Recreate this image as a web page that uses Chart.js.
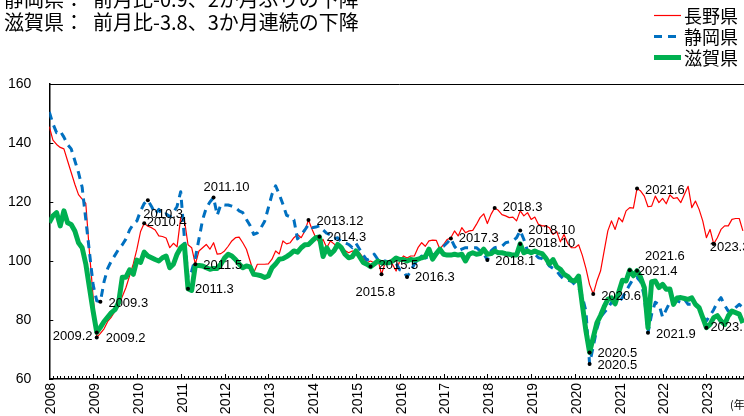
<!DOCTYPE html>
<html>
<head>
<meta charset="utf-8">
<script src="https://cdn.jsdelivr.net/npm/chart.js@4.4.1/dist/chart.umd.min.js"></script>
<style>
html,body{margin:0;padding:0;background:#fff}
#wrap{position:relative;width:744px;height:416px;overflow:hidden}
#c{position:absolute;left:0;top:0}
.t{position:absolute;left:4px;font-family:"Noto Sans CJK JP";font-size:20px;line-height:20px;white-space:pre;color:#000}
#unit{position:absolute;left:730px;top:399px;font-family:"Noto Sans CJK JP";font-size:11px;line-height:11px;white-space:pre;color:#000}
</style>
</head>
<body>
<div id="wrap">
<canvas id="c" width="771" height="416"></canvas>
<div class="t" style="top:-11px">静岡県：  前月比-0.9、2か月ぶりの下降</div>
<div class="t" style="top:12px">滋賀県：  前月比-3.8、3か月連続の下降</div>
<div id="unit">(年)</div>
</div>
<script>
// monthly index, Jan 2008 = 0
const startYear = 2008

const nagano = [
145.5,141,139.5,138.5,138,134,130,126,122.5,121,119.5,103,
88,74.1,75.5,77,79.5,81,83,84.5,88,91,95,99,
104,110,112.8,111.8,111.3,110.5,108.5,108.3,107.8,104.5,106,104.8,
114.7,114,105.5,104.5,98.9,103.4,104.5,105.6,104,106.2,102.3,102.5,
103.4,105,106.8,107.9,108.1,106.2,104,100,96,98.9,98.9,98.9,
99,100.6,103.4,102.4,106.8,105.8,106.2,107.9,109,107.9,110.2,113.9,
110.7,107.9,106.2,107.3,104.5,106.8,105.8,104.5,105,103.6,102.8,103.4,
103,102.8,101.1,99.4,100,99.4,100.6,95.5,99.4,99.4,98.9,96.6,
100,101.7,101,101.7,101.7,104.5,106.2,105,106.8,107.1,107,104,
105.6,107.3,107.9,110.2,108.5,111.3,109.6,110.2,110.4,112.4,114.7,116,
112.7,115.8,118,117.2,115.7,115.3,114.7,114.9,113.6,117,115.3,116.4,
114.1,114.9,112.4,111.9,111.9,111.3,109,110,106.5,109,106,104.5,
104.5,105.5,102,97.5,92,88.8,93.2,96.6,103.4,110.2,113.6,110.7,
114.7,113.3,117,118.1,117.9,124.6,123.7,122,118.4,118.6,122,119.8,
121.2,119.4,122.4,121.2,121.5,119.8,122.6,125.3,118.1,120.3,117.5,113.6,
107.9,110.7,105.8,107.9,110.7,111.9,111.9,114.1,114.4,114.4,110.2
]

const shizuoka = [
150.5,146.5,143.5,144,142,139.5,138,134,130,125,114,103,
92,86.5,86.2,93,97.5,100,102,104,105.5,107.5,110.5,112.5,
113.6,117,119.5,120.6,118.5,116,117.5,115.5,116,115,116.5,118.5,
123.5,108,94.4,96.6,101,107.5,114,118,120,121.5,115.5,119.2,
119,119,118.6,118.1,117,116.4,114.1,112,109,109.5,111.3,113.5,
118,122.6,125.5,122.6,119.2,115.5,115,114,107.5,109,110.5,112.4,
111.3,111.5,111.9,110.5,109.4,108.8,107.5,107.9,106.5,106.2,105.6,104.5,
106,104,102,100.3,101,102.3,100.5,100,100,99.5,100,99.2,
97,96.6,94.6,96.6,99,100.5,101.7,101,101.5,102,102.5,104.5,
105,106.2,107.6,105,103.4,104,104.5,104.5,104.5,104.5,103.4,102.5,
100.3,103.4,104.5,104.8,105,106.2,106.5,106.8,107.9,110.3,107.3,103.4,
102.8,102.3,101.1,100.8,100,98.3,97.5,96.6,95,93.8,93.5,93.2,
92,91,88,83,65.1,71,77,81,82.5,84,86,85.5,
86,87.6,89.8,92,94,94.4,93,88,75.7,82,86,85.3,
81,83.5,86,86.4,86.5,86,87,85.3,85.3,85,84,81,
79.7,81.5,83.5,86,87.6,85,83,83,84.2,85.3,84.2
]

const shiga = [
113,115.3,116.4,111.9,117,113,112.4,110.2,106.2,104.5,99,91,
83,75.8,77.5,79.5,81,82.5,83.5,86,94.5,94.5,97,95.5,
100.3,99.5,103,101.7,101.1,100.5,100,101.1,101.7,97.7,98.9,102.3,
104.5,105.5,90.6,90,98.5,98.5,98.3,97.7,97.2,97.5,97.5,98.9,
101,102.3,101.7,100.5,99,97.7,98.3,98,95.5,95.3,95,94.4,
94.9,97.7,99,100.6,100.8,101.5,102.3,103.4,103,104.5,105.5,105.6,
106.8,107.9,108.2,101.5,104.5,102.3,103.5,105.6,104.5,102.3,101.1,101.5,
103.4,101.5,99.5,98.9,98.1,99,100,99.4,99.4,99.4,100,101,
100.5,100.5,100,100.5,100.3,100.6,101.1,101.5,104,100.6,102.5,104,
102.3,102,102,102.3,102,102.3,100,102.3,102.8,102.3,102.5,104,
102.3,102.5,103.4,102.8,102.8,102.5,102.3,102,102,105.8,102.8,103.4,
102.8,103.4,102.8,102.5,101,99,100.5,98,97.2,95.5,94.8,93.5,
93.2,94.9,85.3,76.3,69,74,79,81.5,84.5,87,87.5,85.5,
89.5,93.5,93.2,96.9,95,96.7,94.4,91,77.4,93,93.2,91,
92.1,90.4,90.5,85.3,87.5,87.6,87.3,87,87.5,85.3,84.2,80.8,
77.4,78.5,80.8,81.5,79.7,78.5,81.4,83,82.5,82,79
]

const seriesNames = ['長野県','静岡県','滋賀県']

// labelled points: series, month index, label
const markPoints = [
['nagano',13,'2009.2'],['shiga',13,'2009.2'],['shizuoka',14,'2009.3'],
['nagano',26,'2010.3'],['shizuoka',27,'2010.4'],['shiga',38,'2011.3'],
['nagano',40,'2011.5'],['shizuoka',45,'2011.10'],['nagano',71,'2013.12'],
['shiga',74,'2014.3'],['shiga',88,'2015.5'],['nagano',91,'2015.8'],
['shizuoka',98,'2016.3'],['shizuoka',110,'2017.3'],['shizuoka',120,'2018.1'],
['nagano',122,'2018.3'],['shizuoka',129,'2018.10'],['shiga',129,'2018.10'],
['shiga',148,'2020.5'],['shizuoka',148,'2020.5'],['nagano',149,'2020.6'],
['shiga',159,'2021.4'],['shiga',161,'2021.6'],['nagano',161,'2021.6'],
['shizuoka',164,'2021.9'],['shiga',180,'2023.1'],['nagano',182,'2023.3']
]
// label offsets from the dot (px), same order
const markOffsets = [
[9,1],[-44,4],[8,2],
[-1,-9],[-1,22],[7,1],
[8,1],[-10,-10],[8,1],
[7,1],[8,-1],[-26,18],
[8,0],[8,0],[8,1],
[8,0],[8,0],[8,0],
[8,1],[8,1],[8,2],
[8,1],[8,-14],[8,2],
[8,2],[4,0],[-4,4]
]

const seriesByKey = {nagano:nagano, shizuoka:shizuoka, shiga:shiga}

function toPoints(arr){
return arr.map((v,i)=>({x:i,y:v}))
}

const extras = {
id:'extras',
afterDatasetsDraw(chart){
let ctx=chart.ctx
let a=chart.chartArea
let x=chart.scales.x
let y=chart.scales.y
ctx.save()
ctx.strokeStyle='#000'
ctx.lineWidth=1
ctx.beginPath()
ctx.moveTo(a.left,a.top+0.5)
ctx.lineTo(a.right,a.top+0.5)
// inward ticks
for(let m=0;m<=x.max;m++){
let px=Math.round(x.getPixelForValue(m))+0.5
let len=(m%12===0)?5:3
ctx.moveTo(px,a.bottom)
ctx.lineTo(px,a.bottom-len)
}
y.ticks.forEach(t=>{
let py=Math.round(y.getPixelForValue(t.value))+0.5
ctx.moveTo(a.left,py)
ctx.lineTo(a.left+4,py)
})
ctx.stroke()

// marked points
ctx.fillStyle='#000'
ctx.font='13px "Liberation Sans"'
ctx.textBaseline='middle'
ctx.textAlign='left'
markPoints.forEach((p,i)=>{
let px=x.getPixelForValue(p[1])
let py=y.getPixelForValue(seriesByKey[p[0]][p[1]])
ctx.beginPath()
ctx.arc(px,py,2,0,Math.PI*2)
ctx.fill()
ctx.fillText(p[2],px+markOffsets[i][0],py+markOffsets[i][1])
})
ctx.restore()
},
afterDraw(chart){
let ctx=chart.ctx
let rows=[15.5,36.5,57.5]
ctx.save()
ctx.font='18px "Noto Sans CJK JP"'
ctx.textBaseline='middle'
ctx.fillStyle='#000'
chart.data.datasets.forEach((ds,i)=>{
ctx.strokeStyle=ds.borderColor
ctx.lineWidth=ds.borderWidth
ctx.setLineDash(ds.borderDash||[])
ctx.beginPath()
ctx.moveTo(654,rows[i])
ctx.lineTo(681,rows[i])
ctx.stroke()
ctx.fillText(ds.label,684,rows[i]+1)
})
ctx.restore()
}
}

new Chart(document.getElementById('c'),{
type:'line',
data:{
datasets:[
{label:seriesNames[0],data:toPoints(nagano),borderColor:'#ff0000',borderWidth:1.2,order:3},
{label:seriesNames[1],data:toPoints(shizuoka),borderColor:'#0070c0',borderWidth:3,borderDash:[8,6],order:2},
{label:seriesNames[2],data:toPoints(shiga),borderColor:'#00b050',borderWidth:5,order:1}
]
},
options:{
responsive:false,
animation:false,
layout:{padding:{top:84,right:10.7,left:0,bottom:0}},
elements:{point:{radius:0},line:{tension:0,borderJoinStyle:'round'}},
plugins:{legend:{display:false},tooltip:{enabled:false}},
scales:{
x:{
type:'linear',min:0,max:192,
grid:{display:false,drawTicks:false},
border:{display:true,color:'#000',width:1.5},
ticks:{
stepSize:12,autoSkip:false,maxRotation:90,minRotation:90,padding:4,labelOffset:2,color:'#000',
font:{family:'Liberation Sans',size:14},
callback:v=>(v>180?'':String(startYear+v/12))
},
afterFit(s){s.height=37}
},
y:{
min:60,max:160,
grid:{display:false,drawTicks:false},
border:{display:true,color:'#000',width:1.5},
ticks:{stepSize:20,padding:18,color:'#000',font:{family:'Liberation Sans',size:14}},
afterFit(s){s.width=49.3}
}
}
},
plugins:[extras]
})
</script>
</body>
</html>
